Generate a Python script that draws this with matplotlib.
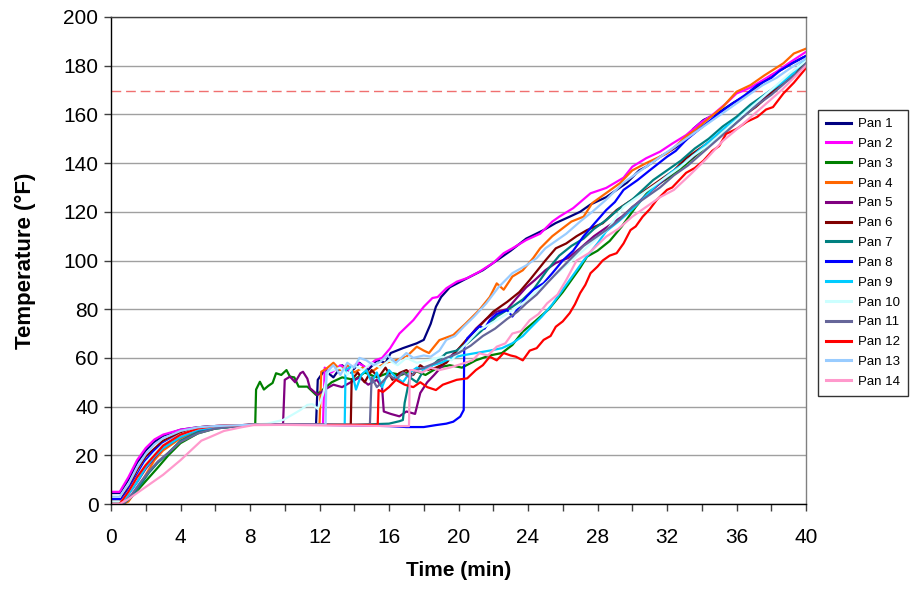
import matplotlib
matplotlib.use("Agg")
import matplotlib.pyplot as plt

plt.rcParams['font.family'] = ['Liberation Sans', 'DejaVu Sans']

# temperature logs, time in minutes, temperature in deg F
pan1_t = [0, 0.5, 1, 1.5, 2, 2.5, 3, 4, 5, 6, 8, 10, 11.8, 11.9, 12.3, 12.8, 13.3, 13.8, 14.3, 14.8, 15.3, 15.8, 16.1, 16.8, 17.6, 18, 18.4, 18.7, 19, 19.5, 20.3, 21.4, 22.2, 23, 23.9, 24.9, 25.6, 26.4, 27, 27.6, 28.5, 29.1, 29.7, 30.4, 30.8, 31.6, 32.3, 33.1, 33.5, 34.1, 34.9, 35.8, 36.6, 37.3, 38, 38.5, 39.2, 40]
pan1_T = [4.5, 4.5, 10, 17, 22, 25.5, 28, 30.5, 31.5, 32, 32.5, 32.5, 32.5, 51, 55, 52, 57, 54, 58, 55, 59, 58, 62, 64, 66, 67.4, 74, 81, 85, 89, 92, 96, 100, 104, 109, 112.5, 115.4, 118, 120, 123, 126, 129, 132, 137, 138.5, 142.6, 145.5, 149.5, 154, 157.7, 160.4, 164.7, 168, 172, 176, 178, 181, 184]

pan2_t = [0, 0.5, 1, 1.5, 2, 2.5, 3, 4, 5, 6, 8, 10, 12.2, 12.3, 12.7, 13.2, 13.7, 14.2, 14.7, 15.2, 15.6, 16.06, 16.6, 17.4, 18, 18.5, 18.8, 19.3, 19.9, 20.5, 21.2, 22, 22.6, 23.1, 23.9, 24.7, 25.4, 25.8, 26.6, 27.6, 28.5, 29.5, 30, 30.8, 31.6, 32.3, 33.1, 33.9, 34.6, 35.4, 36, 36.8, 37.5, 38.3, 39, 40]
pan2_T = [5, 5, 11, 18, 23, 26.5, 28.5, 30.5, 31.5, 32, 32.5, 32.5, 32.5, 56, 54, 57, 55, 58, 56, 59, 60, 63.9, 70, 75.5, 81, 84.6, 85, 88.6, 91.3, 92.8, 95.4, 99, 103, 105, 108.4, 111, 116, 118, 121.5, 127.6, 129.8, 134, 138.5, 142, 144.7, 148, 151.5, 156.4, 159.7, 164.5, 168.6, 171, 174, 177.5, 181, 185.7]

pan3_t = [0, 0.7, 1.2, 1.7, 2.2, 2.7, 3.3, 4, 5, 6, 8, 8.3, 8.35, 8.57, 8.8, 9.05, 9.3, 9.5, 9.8, 10.1, 10.3, 10.55, 10.8, 11.3, 11.8, 12.2, 12.7, 13.3, 14, 14.6, 15.3, 16, 16.7, 17.4, 18.1, 18.8, 19.5, 20.2, 21, 21.8, 22.5, 23.1, 23.7, 24.4, 25.2, 26, 27, 27.4, 28, 28.7, 29.4, 30.2, 31, 31.6, 32.3, 33, 33.8, 34.6, 35.4, 36.2, 37, 37.8, 38.6, 39.3, 40]
pan3_T = [0, 0, 3, 7, 11, 15, 20, 25, 29, 31, 32.5, 32.5, 47, 50.2, 47, 48.5, 49.7, 53.7, 53, 55, 52.3, 52, 48.2, 48.2, 44.8, 47, 50, 52, 51, 54, 52, 54, 53, 55, 53, 56, 57, 56, 59, 61, 62, 65.3, 70.8, 75, 80, 87, 97, 101.6, 104, 108, 114, 122, 129, 131.8, 135, 139, 144, 149, 154, 158, 163, 168, 173, 177, 180]

pan4_t = [0, 0.7, 1, 1.5, 2, 2.5, 3, 4, 5, 6, 8, 10, 12.0, 12.1, 12.4, 12.8, 13.2, 13.6, 14, 14.5, 14.9, 15.3, 15.8, 16.4, 17, 17.6, 18, 18.3, 18.9, 19.7, 20.4, 21.2, 21.8, 22.2, 22.6, 23.1, 23.7, 24.3, 24.7, 25.4, 26.5, 27.2, 27.7, 28.5, 29.3, 30, 30.8, 31.4, 32, 32.5, 33.1, 33.7, 34.3, 35.2, 36, 36.8, 37.6, 38.7, 39.3, 40]
pan4_T = [0, 0, 1, 6, 12, 18, 22, 27, 30, 31.5, 32.5, 32.5, 32.5, 54.3, 55.6, 58, 55, 57, 54, 56, 53.7, 55.8, 58, 59, 60.5, 64.6, 63, 62, 67.3, 69.4, 74, 79.7, 85, 90.6, 88, 93.4, 96, 101, 105, 110, 116, 118, 123.6, 127.7, 131.8, 137, 140, 142, 144, 147, 151, 154, 157.7, 163, 169.3, 172, 176, 181, 185, 187]

pan5_t = [0, 0.6, 1, 1.5, 2, 2.5, 3, 4, 5, 6, 8, 9.9, 10.0, 10.3, 10.6, 10.9, 11.05, 11.3, 11.45, 11.9, 12.3, 12.8, 13.3, 13.8, 14.3, 14.8, 15.3, 15.6, 15.7, 16.1, 16.6, 17, 17.5, 17.8, 18.2, 18.6, 19.1, 19.6, 20.2, 21, 21.6, 22.2, 22.8, 23.4, 23.9, 24.4, 25, 25.6, 26.3, 27, 27.8, 28.6, 29.4, 30.2, 31, 31.8, 32.6, 33.4, 34.2, 35, 35.8, 36.6, 37.4, 38.2, 39, 40]
pan5_T = [0, 0, 4, 9, 14.5, 19, 23, 27.5, 30.5, 31.5, 32.5, 32.5, 51, 52.3, 50, 53.7, 54.3, 51.5, 47.6, 44.8, 47, 49, 48, 50, 52, 49, 51, 48, 38, 37, 36, 38, 37, 45.6, 50, 53, 57, 61, 65, 72, 76, 79, 80, 85, 89, 92, 96, 99, 101, 105, 110, 114, 118, 123, 128, 133, 138, 142, 147, 152, 157, 161, 166, 171, 176, 182]

pan6_t = [0, 0.5, 1, 1.5, 2, 3, 4, 5, 6, 8, 10, 12, 13.8, 13.85, 14.2, 14.6, 15, 15.4, 15.8, 16.2, 16.6, 17, 17.4, 17.8, 18.2, 18.7, 19.3, 19.8, 20.4, 21.2, 22, 22.8, 23.5, 24.1, 25, 25.6, 26.2, 26.8, 27.4, 28.3, 29.1, 30, 30.8, 31.6, 32.4, 33.1, 33.9, 34.7, 35.5, 36.3, 37.1, 37.9, 38.7, 39.4, 40]
pan6_T = [1, 1, 7, 14, 19.5, 26, 29.5, 31.5, 32, 32.5, 32.5, 32.5, 32.5, 51, 54, 50, 55, 52, 56, 51, 53.8, 55, 53, 57, 55, 56, 58, 62, 67, 73, 79, 83, 87, 92, 100, 105, 107, 110, 112.5, 115.3, 120.7, 125, 129, 133, 137, 142, 146, 150, 155, 159, 163, 168, 173, 177, 181]

pan7_t = [0, 0.7, 1.2, 1.7, 2.2, 2.7, 3.3, 4, 5, 6, 8, 10, 12, 14, 16, 16.6, 16.8, 16.9, 17, 17.2, 17.6, 18, 18.5, 19.3, 19.9, 20.5, 21.3, 22.2, 23.1, 23.7, 24.3, 25.1, 25.8, 26.5, 27.2, 27.8, 28.5, 29.2, 30, 30.6, 31.2, 32, 32.8, 33.6, 34.4, 35.2, 36, 36.8, 37.6, 38.4, 39.2, 40]
pan7_T = [0, 0, 3, 8, 13, 17, 21, 26, 29.5, 31, 32.5, 32.5, 32.5, 32.5, 33, 34, 34.5, 41.5, 45, 52, 50, 55, 57, 62, 63, 66, 71, 77, 81, 84, 88, 96, 102, 106, 109, 113, 116.6, 121, 125, 129, 133, 137, 141, 146, 150, 155, 159, 164, 168, 172, 177, 182]

pan8_t = [0, 0.6, 1, 1.5, 2, 2.5, 3, 4, 5, 6, 8, 10, 12, 14, 16, 17, 18, 18.7, 19.3, 19.7, 20.1, 20.3, 20.33, 20.5, 21, 21.2, 21.5, 21.8, 22.2, 22.8, 23.1, 23.5, 23.9, 24.3, 24.9, 25.4, 26, 26.6, 27.2, 27.8, 28.5, 29, 29.5, 30.3, 31, 32, 32.5, 33.1, 33.7, 34.3, 35, 35.8, 36.5, 37.2, 38, 38.5, 39.2, 40]
pan8_T = [2, 2, 6, 12, 18, 22, 25, 28.5, 30.5, 31.5, 32.5, 32.5, 32.5, 32.3, 32, 31.6, 31.6, 32.4, 33, 33.8, 35.9, 38.6, 64.6, 68, 71.5, 73, 72, 75.5, 78, 79.7, 77, 81, 85, 88, 90.7, 94.8, 100, 104, 110, 115, 120.7, 124, 129, 133, 137, 142.6, 145, 149.5, 153, 156.4, 160.5, 164.6, 168, 172, 175, 178, 181, 184]

pan9_t = [0, 0.6, 1, 1.5, 2, 2.5, 3, 4, 5, 6, 8, 10, 12, 13.45, 13.5, 13.8, 14.1, 14.4, 14.7, 15, 15.3, 15.6, 16, 16.4, 16.8, 17.2, 17.6, 18, 18.5, 19, 19.6, 20.2, 21, 21.8, 22.5, 23.1, 23.7, 24.1, 24.8, 25.4, 26, 26.6, 27.2, 28, 28.5, 29.2, 30, 30.7, 31.4, 32.2, 33, 33.8, 34.6, 35.4, 36.2, 37, 37.8, 38.6, 39.3, 40]
pan9_T = [0, 0, 4, 9, 15, 19.5, 23, 27.5, 30.5, 31.5, 32.5, 32.5, 32.5, 32.5, 55, 56.4, 47, 53, 55, 50, 54, 48, 55, 52, 50, 54, 56, 55, 57, 58, 60, 61, 62, 63, 64, 66, 69, 72, 77, 82, 88, 94, 100, 107, 112, 116, 121, 126, 131, 136, 140, 145, 150, 155, 159, 164, 169, 173, 177, 183]

pan10_t = [0, 0.6, 1, 1.5, 2, 2.5, 3, 4, 5, 6, 8, 9, 9.9, 10.4, 10.9, 11.3, 11.6, 11.9, 12.2, 12.5, 12.8, 13.2, 13.6, 14, 14.5, 15, 15.5, 16, 16.5, 17, 17.6, 18.2, 19.1, 19.6, 20.2, 21.2, 22.2, 23, 23.8, 24.6, 25.4, 26.2, 27, 27.8, 28.6, 29.5, 30.3, 31.1, 31.9, 32.7, 33.5, 34.3, 35.1, 35.9, 36.7, 37.5, 38.3, 39.1, 40]
pan10_T = [1, 1, 5, 11, 17, 21, 24.5, 28.5, 31, 32, 32.5, 33, 34.5, 36.5, 38.6, 40.7, 41, 39, 45, 54.3, 55, 56, 53, 57, 55, 58, 56, 59, 57, 60, 58, 59, 60.5, 59, 64, 71.5, 75.5, 79, 83, 88, 93, 98, 103, 108, 113, 122, 126, 130, 134, 138, 143, 147, 152, 157, 162, 167, 172, 177, 182]

pan11_t = [0, 0.7, 1.2, 1.7, 2.2, 2.7, 3.3, 4, 5, 6, 8, 10, 12, 14, 14.9, 15.0, 15.3, 15.6, 16, 16.4, 16.8, 17.2, 17.6, 18, 18.7, 19.3, 20, 20.7, 21.4, 22.1, 22.8, 23.4, 23.9, 24.5, 25.1, 25.8, 26.5, 27.2, 27.8, 28.5, 29.3, 30, 30.8, 31.6, 32.4, 33.2, 34, 34.8, 35.6, 36.4, 37.2, 38, 38.8, 39.5, 40]
pan11_T = [0, 0, 4, 9, 13.5, 17.5, 21, 25.5, 29, 31, 32.5, 32.5, 32.5, 32.5, 32.5, 52, 48, 50, 53, 51, 54, 52, 55, 56, 58, 60, 62, 65, 69, 72, 76, 79, 82.4, 86, 90.7, 96, 101, 106, 109, 112.5, 117, 122, 126, 130, 135, 139, 144, 149, 154, 159, 164, 168, 173, 177, 181]

pan12_t = [0, 0.5, 1, 1.5, 2, 3, 4, 5, 6, 8, 10, 12, 14, 15.35, 15.4, 15.65, 16, 16.4, 16.9, 17.4, 17.8, 18.2, 18.7, 19.1, 19.5, 19.9, 20.5, 21, 21.4, 21.8, 22.2, 22.6, 23, 23.3, 23.7, 24.1, 24.5, 24.9, 25.3, 25.6, 26, 26.4, 26.7, 27, 27.3, 27.6, 28, 28.3, 28.7, 29.1, 29.5, 29.9, 30.2, 30.6, 31, 31.4, 32, 32.3, 32.7, 33.1, 33.6, 34.1, 34.6, 35, 35.4, 36, 36.6, 37.2, 37.7, 38.1, 38.7, 39.3, 40]
pan12_T = [0, 0, 5, 11, 16, 24, 28.5, 31, 32, 32.5, 32.5, 32.5, 32.5, 32.5, 46.8, 46, 48, 51, 49, 48, 50, 48, 46.8, 49, 50, 51, 51.6, 55, 57, 60.5, 59, 62, 61, 60.5, 59, 63, 64, 67.4, 69, 72.8, 75, 78.4, 82, 86.6, 90, 94.8, 97.5, 100, 102, 103, 107, 112.5, 114, 118, 121, 124.8, 129, 130, 133, 136, 138, 141, 145, 147, 152, 154, 157, 159, 162, 163, 168.6, 173, 179]

pan13_t = [0, 0.5, 1, 1.5, 2, 2.5, 3, 4, 5, 6, 8, 10, 12, 12.35, 12.4, 12.8, 13.2, 13.6, 14, 14.3, 14.7, 15.1, 15.5, 15.9, 16.4, 17, 17.4, 18, 18.4, 18.9, 19.3, 19.8, 20.3, 20.9, 21.6, 22.3, 23.1, 23.9, 24.5, 25, 25.8, 26.2, 27, 27.7, 28.5, 29.5, 30.3, 31.1, 31.9, 32.7, 33.5, 34.3, 35.1, 35.9, 36.7, 37.5, 38.3, 39.1, 40]
pan13_T = [3, 3, 8, 15, 20.5, 24.5, 27, 30, 31.5, 32, 32.5, 32.5, 32.5, 32.5, 54, 57, 53, 58, 56, 60, 59, 57, 58.4, 61, 58, 62, 60, 61, 60.5, 63, 67.4, 69, 72.8, 77, 82.4, 89, 94.8, 98, 101, 105, 109, 111, 116, 120, 125, 132, 136, 140, 144, 148, 152, 156, 160, 164, 168, 172, 175, 179, 183]

pan14_t = [0, 0.5, 1, 1.5, 2, 2.5, 3, 3.5, 4, 4.6, 5.2, 5.7, 6.5, 7.5, 8.2, 10, 12, 14, 16, 17.15, 17.2, 17.4, 17.9, 18.4, 18.9, 19.5, 20.3, 20.8, 21.2, 21.7, 22.2, 22.7, 23.1, 23.6, 24.1, 24.6, 25.1, 25.7, 26.2, 26.8, 27.5, 28.5, 29.2, 30, 30.8, 31.6, 32.4, 33.3, 34.3, 35.2, 36.2, 37, 37.8, 38.6, 39.3, 40]
pan14_T = [0, 0, 2, 4.5, 7, 9.5, 12, 15, 18, 22, 26, 27.5, 30, 31.5, 32.4, 32.5, 32.3, 32.2, 32, 32, 55, 55, 54, 56, 55, 56, 57.8, 59, 61.9, 61, 64.6, 66, 70, 71, 75.5, 78, 82.4, 86, 92, 100, 103, 109.8, 113, 118, 122, 126, 129, 135, 142, 149, 155, 160, 165, 170, 175, 180]

target_temp = 169.5

labels = ["Pan 1", "Pan 2", "Pan 3", "Pan 4", "Pan 5", "Pan 6", "Pan 7",
          "Pan 8", "Pan 9", "Pan 10", "Pan 11", "Pan 12", "Pan 13", "Pan 14"]
colors = ["#000080", "#FF00FF", "#008000", "#FF6600", "#800080", "#800000", "#008080",
          "#0000FF", "#00CCFF", "#CCFFFF", "#666699", "#FF0000", "#99CCFF", "#FF99CC"]

times = [pan1_t, pan2_t, pan3_t, pan4_t, pan5_t, pan6_t, pan7_t,
         pan8_t, pan9_t, pan10_t, pan11_t, pan12_t, pan13_t, pan14_t]
temps = [pan1_T, pan2_T, pan3_T, pan4_T, pan5_T, pan6_T, pan7_T,
         pan8_T, pan9_T, pan10_T, pan11_T, pan12_T, pan13_T, pan14_T]

fig = plt.figure(figsize=(9.14, 5.92), dpi=100)
ax = fig.add_axes([111 / 914, 88 / 592, 695 / 914, 487 / 592])

for t, T, c, lab in zip(times, temps, colors, labels):
    ax.plot(t, T, color=c, lw=1.6, label=lab, solid_joinstyle="round")

ax.axhline(target_temp, color="#F07070", lw=1, dashes=(7, 3.5), zorder=1)

ax.set_xlim(0, 40)
ax.set_ylim(0, 200)
ax.set_xticks(range(0, 41, 4))
ax.set_xticks(range(0, 41, 2), minor=True)
ax.set_yticks(range(0, 201, 20))
ax.yaxis.grid(True, color="#A0A0A0", lw=1)
ax.set_axisbelow(True)

ax.spines["top"].set_color("#404040")
ax.spines["right"].set_color("#808080")
for s in ["left", "bottom"]:
    ax.spines[s].set_color("black")
for s in ax.spines.values():
    s.set_linewidth(1)

ax.tick_params(axis="both", which="both", direction="out", length=5, width=1, color="#404040")
ax.tick_params(axis="y", labelsize=15, pad=4)
ax.tick_params(axis="x", labelsize=15, pad=12)

ax.set_xlabel("Time (min)", fontsize=15, fontweight="bold", labelpad=10)
ax.set_ylabel("Temperature (°F)", fontsize=16, fontweight="bold", labelpad=20)

leg = fig.legend(loc="upper left", bbox_to_anchor=(818 / 914, 1 - 110 / 592),
                 fontsize=9.5, frameon=True, fancybox=False, borderaxespad=0,
                 handlelength=1.9, labelspacing=0.575, borderpad=0.6, handletextpad=0.5)
leg.get_frame().set_edgecolor("black")
leg.get_frame().set_linewidth(1)
for h in leg.get_lines():
    h.set_linewidth(2.2)

fig.savefig("out.png", dpi=100)
